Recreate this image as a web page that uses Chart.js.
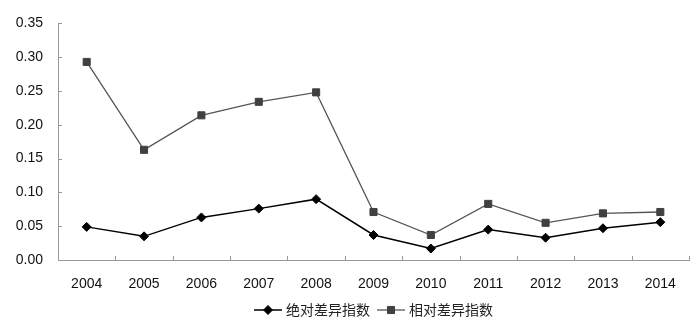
<!DOCTYPE html>
<html><head><meta charset="utf-8">
<script src="https://cdn.jsdelivr.net/npm/chart.js@4"></script>
<style>html,body{margin:0;padding:0;background:#fff}#wrap{width:700px;height:331px}</style>
</head><body><div id="wrap"><canvas id="c" width="700" height="331"></canvas></div>
<script>
const categories = ['2004','2005','2006','2007','2008','2009','2010','2011','2012','2013','2014'];
const absoluteIndex = [0.049,0.035,0.063,0.076,0.090,0.037,0.017,0.045,0.033,0.047,0.056];
const relativeIndex = [0.293,0.163,0.214,0.234,0.248,0.071,0.037,0.083,0.055,0.069,0.071];
const seriesNames = ['绝对差异指数','相对差异指数'];
const yTicks = [0,0.05,0.10,0.15,0.20,0.25,0.30,0.35];

const AXIS = '#999999';
const tickPlugin = {
  id: 'ticks',
  afterDraw(chart) {
    const ctx = chart.ctx, a = chart.chartArea;
    const y = chart.scales.y, x = chart.scales.x;
    ctx.save();
    ctx.strokeStyle = AXIS; ctx.lineWidth = 1;
    ctx.beginPath();
    yTicks.forEach(v => { const py = Math.round(y.getPixelForValue(v)) + 0.5; ctx.moveTo(a.left, py); ctx.lineTo(a.left + 4, py); });
    const w = (a.right - a.left) / categories.length;
    for (let i = 1; i <= categories.length; i++) { const px = Math.round(a.left + i * w) + 0.5; ctx.moveTo(px, a.bottom); ctx.lineTo(px, a.bottom - 4); }
    ctx.stroke();
    // legend
    const items = [
      {x0: 254, label: seriesNames[0], color: '#000000', mark: '#000000', style: 'rectRot', r: 4.5, lw: 1.5},
      {x0: 377, label: seriesNames[1], color: '#555555', mark: '#404040', style: 'rect', r: 5, lw: 1.3}
    ];
    const ly = 310;
    items.forEach(it => {
      ctx.strokeStyle = it.color; ctx.lineWidth = it.lw;
      ctx.beginPath(); ctx.moveTo(it.x0, ly); ctx.lineTo(it.x0 + 28, ly); ctx.stroke();
      ctx.fillStyle = it.mark; ctx.strokeStyle = it.mark; ctx.lineWidth = 1;
      Chart.helpers.drawPoint(ctx, {pointStyle: it.style, radius: it.r, borderWidth: 1, rotation: 0}, it.x0 + 14, ly);
      ctx.fillStyle = '#222'; ctx.font = '14px "Noto Sans CJK SC"'; ctx.textBaseline = 'middle'; ctx.textAlign = 'left';
      ctx.fillText(it.label, it.x0 + 32, ly);
    });
    ctx.restore();
  }
};

new Chart(document.getElementById('c'), {
  type: 'line',
  data: {
    labels: categories,
    datasets: [
      {label: seriesNames[0], data: absoluteIndex, borderColor: '#000', backgroundColor: '#000', borderWidth: 1.5,
       pointStyle: 'rectRot', pointRadius: 4.5, pointBorderWidth: 1, tension: 0},
      {label: seriesNames[1], data: relativeIndex, borderColor: '#555', backgroundColor: '#404040', pointBorderColor: '#404040', borderWidth: 1.3,
       pointStyle: 'rect', pointRadius: 5, pointBorderWidth: 1, tension: 0}
    ]
  },
  options: {
    responsive: false, animation: false,
    layout: {padding: {left: 0, right: 11, top: 20, bottom: 0}},
    plugins: {legend: {display: false}, tooltip: {enabled: false}},
    scales: {
      x: {
        offset: true,
        grid: {display: true, drawOnChartArea: false, drawTicks: false, offset: true, color: 'rgba(0,0,0,0)'},
        border: {color: AXIS, width: 1},
        ticks: {color: '#111', font: {family: '"Liberation Sans", Arial', size: 14}, padding: 16, maxRotation: 0, autoSkip: false},
        afterFit(s) { s.height = 71; }
      },
      y: {
        min: 0, max: 0.35,
        grid: {drawOnChartArea: false, drawTicks: false, color: 'rgba(0,0,0,0)'},
        border: {color: AXIS, width: 1},
        ticks: {stepSize: 0.05, color: '#111', font: {family: '"Liberation Sans", Arial', size: 14}, padding: 15,
                callback: v => Number(v).toFixed(2)},
        afterFit(s) { s.width = 58; }
      }
    }
  },
  plugins: [tickPlugin]
});
</script></body></html>
